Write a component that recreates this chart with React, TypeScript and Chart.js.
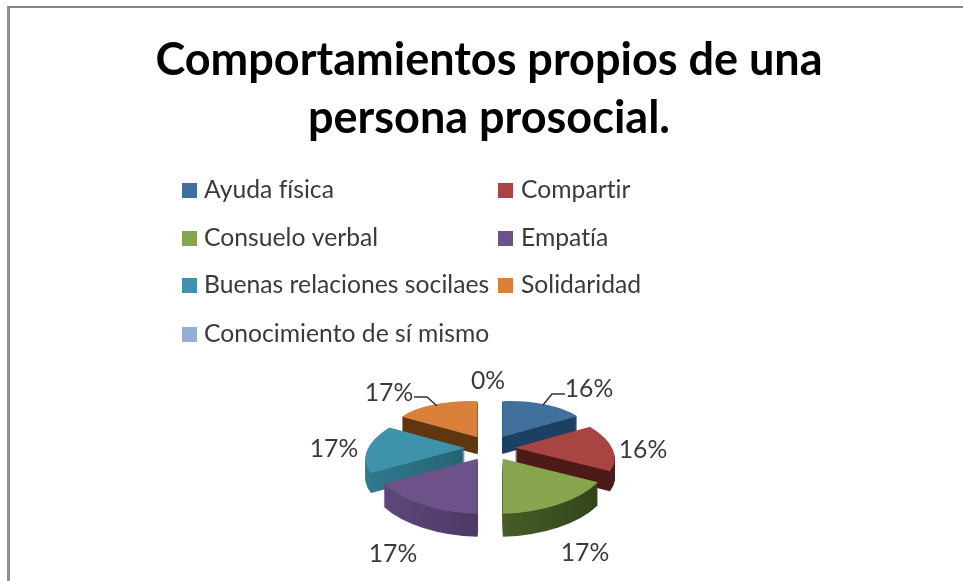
import React, { useEffect, useRef } from "react";
import { Chart, registerables } from "chart.js";

Chart.register(...registerables);

const categories = [
  "Ayuda física",
  "Compartir",
  "Consuelo verbal",
  "Empatía",
  "Buenas relaciones socilaes",
  "Solidaridad",
  "Conocimiento de sí mismo",
];
const values = [16.4, 16.4, 17.2, 16.7, 16.7, 16.6, 0];
const titleLines = ["Comportamientos propios de una", "persona prosocial."];

const topColors = ["#41709f", "#a84442", "#87a44f", "#6d5289", "#3e93ab", "#d9813a", "#95aed3"];
const wallColors = [
  ["#1d3f63", "#1d3f63"],
  ["#4c1b18", "#4c1b18"],
  ["#5c7832", "#31411a"],
  ["#61497e", "#392950"],
  ["#2f7c90", "#1c4a57"],
  ["#5f3610", "#5f3610"],
  ["#6f86a8", "#6f86a8"],
];

const LABEL_FONT = '24.7px Lato, "Open Sans", sans-serif';
const TEXT = "#3a3a3a";
const PIE = { cx: 490, cy: 448, explodeX: 25, explodeY: 12.5, rx: 98, ry: 45.5, persp: 0.21, depthMid: 20, depthVar: 3.5 };
const DRAW_ORDER = [5, 0, 4, 1, 3, 2];
const LABEL_POS = [
  [589, 389],
  [643, 450],
  [585, 553],
  [393, 554],
  [334, 449],
  [389, 393],
  [488, 381],
];
const LEADERS = [
  [[543, 405], [552, 394], [565, 394]],
  [[414, 397], [427, 397], [437, 406]],
];
const LEGEND_COLS = [182, 498];
const LEGEND_ROWS = [190, 238, 285, 334];

const project = (u: number, v: number) => {
  const w = 1 + PIE.persp * v;
  return [u * PIE.rx * w, v * PIE.ry * w];
};

const piePlugin = {
  id: "pie3d",
  beforeDatasetsDraw(chart: any) {
    const ctx = chart.ctx as CanvasRenderingContext2D;
    const els = chart.getDatasetMeta(0).data;
    const place = (i: number, fill: (el: any) => any, extra: number) => {
      const el = els[i];
      const a0 = el.startAngle, a1 = el.endAngle, R = el.outerRadius;
      const mid = (a0 + a1) / 2;
      const ax = R * Math.cos(a0), ay = R * Math.sin(a0);
      const bx = R * Math.cos(a1), by = R * Math.sin(a1);
      const [px, py] = project(Math.cos(a0), Math.sin(a0));
      const [qx, qy] = project(Math.cos(a1), Math.sin(a1));
      const det = ax * by - bx * ay;
      const m11 = (px * by - qx * ay) / det;
      const m12 = (qx * ax - px * bx) / det;
      const m21 = (py * by - qy * ay) / det;
      const m22 = (qy * ax - py * bx) / det;
      ctx.save();
      ctx.translate(
        PIE.cx + PIE.explodeX * Math.cos(mid),
        PIE.cy + PIE.explodeY * Math.sin(mid) + extra
      );
      ctx.transform(m11, m21, m12, m22, 0, 0);
      ctx.translate(-el.x, -el.y);
      const orig = el.options;
      el.options = { ...orig, backgroundColor: fill(el) };
      el.draw(ctx);
      el.options = orig;
      ctx.restore();
    };
    for (const i of DRAW_ORDER) {
      const el = els[i];
      const mid = (el.startAngle + el.endAngle) / 2;
      const depth = Math.round(PIE.depthMid + PIE.depthVar * Math.sin(mid));
      const wall = (e: any) => {
        const g = ctx.createLinearGradient(e.x - e.outerRadius, 0, e.x + e.outerRadius, 0);
        g.addColorStop(0, wallColors[i][0]);
        g.addColorStop(1, wallColors[i][1]);
        return g;
      };
      for (let d = depth; d >= 1; d--) place(i, wall, d);
      place(i, () => topColors[i], 0);
    }
    return false;
  },
  afterDraw(chart: any) {
    const ctx = chart.ctx as CanvasRenderingContext2D;
    ctx.save();
    ctx.font = LABEL_FONT;
    (ctx as any).letterSpacing = "0.01px";
    ctx.fillStyle = TEXT;
    ctx.textBaseline = "middle";
    categories.forEach((c, i) => {
      const x = LEGEND_COLS[i % 2];
      const y = LEGEND_ROWS[Math.floor(i / 2)];
      ctx.fillStyle = topColors[i];
      ctx.fillRect(x, y - 7, 15, 15);
      ctx.fillStyle = TEXT;
      ctx.textAlign = "left";
      ctx.fillText(c, x + (i % 2 ? 23 : 22), y);
    });
    ctx.textAlign = "center";
    values.forEach((v, i) => {
      ctx.fillText(`${Math.round(v)}%`, LABEL_POS[i][0], LABEL_POS[i][1]);
    });
    ctx.strokeStyle = "#333";
    ctx.lineWidth = 1.5;
    for (const line of LEADERS) {
      ctx.beginPath();
      line.forEach(([x, y], j) => (j ? ctx.lineTo(x, y) : ctx.moveTo(x, y)));
      ctx.stroke();
    }
    ctx.restore();
  },
};

export default function App() {
  const ref = useRef<HTMLCanvasElement>(null);
  useEffect(() => {
    const chart = new Chart(ref.current!, {
      type: "pie",
      data: {
        labels: categories,
        datasets: [{ data: values, backgroundColor: topColors, borderWidth: 0, radius: 100 } as any],
      },
      options: {
        responsive: false,
        animation: false,
        layout: { padding: { left: 15, top: 0, right: 0, bottom: 0 } },
        plugins: {
          legend: { display: false },
          tooltip: { enabled: false },
          title: {
            display: true,
            text: titleLines,
            color: "#000",
            font: { family: 'Lato, "Open Sans", sans-serif', size: 45, weight: "bold", lineHeight: 1.29 },
            padding: { top: 31, bottom: 0 },
          },
        },
      } as any,
      plugins: [piePlugin],
    });
    return () => chart.destroy();
  }, []);
  return (
    <div style={{ position: "absolute", left: 0, top: 0, width: 963, height: 581, overflow: "hidden", background: "#fff" }}>
      <div
        style={{
          position: "absolute",
          left: 7,
          top: 6,
          width: 956,
          height: 575,
          boxSizing: "border-box",
          borderTop: "2px solid #858585",
          borderLeft: "3px solid #8e8e8e",
        }}
      />
      <canvas
        ref={ref}
        width={963}
        height={581}
        style={{ position: "absolute", left: 0, top: 0, width: 963, height: 581, filter: "blur(0.6px)" }}
      />
    </div>
  );
}
